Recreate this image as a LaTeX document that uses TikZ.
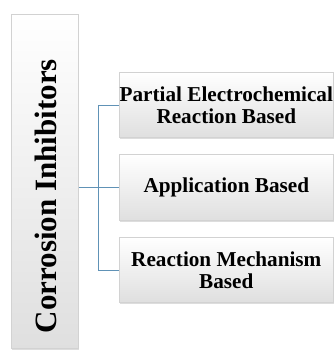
\documentclass[tikz,border=0pt]{standalone}
\usepackage{fontspec}
\setmainfont{Liberation Serif}
\usetikzlibrary{shadows}
\definecolor{connblue}{RGB}{96,146,182}
\begin{document}
\begin{tikzpicture}[x=1pt,y=-1pt,
  box/.style={draw=gray!35, line width=0.6pt, top color=white, bottom color=gray!25,
    drop shadow={shadow xshift=1pt, shadow yshift=-1.2pt, fill=gray!45, opacity=0.6}},
  conn/.style={draw=connblue, line width=0.6pt},
  lbl/.style={font=\bfseries\fontsize{21.2}{22}\selectfont, align=center, text=black}]
\useasboundingbox (0,0) rectangle (334,356);
\node[box, minimum width=67pt, minimum height=334pt, anchor=north west, inner sep=0pt] (main) at (11,14) {};
\node[rotate=90, font=\bfseries\fontsize{31}{32}\selectfont, text=black] (mt) at (46,196) {Corrosion Inhibitors};
\node[box, minimum width=214pt, minimum height=65pt, anchor=north west, inner sep=0pt] (b1) at (119,72) {};
\node[box, minimum width=214pt, minimum height=66pt, anchor=north west, inner sep=0pt] (b2) at (119,154) {};
\node[box, minimum width=214pt, minimum height=65pt, anchor=north west, inner sep=0pt] (b3) at (119,237) {};
\node[lbl] (t1) at (b1.center) {Partial Electrochemical\\Reaction Based};
\node[lbl] (t2) at (b2.center) {Application Based};
\node[lbl] (t3) at (b3.center) {Reaction Mechanism\\Based};
\coordinate (j) at (98,187);
\draw[conn] (main.east |- j) -- (j);
\draw[conn] (j) -- (b2.west |- j);
\draw[conn] (j |- b1.west) -- (j |- b3.west);
\draw[conn] (j |- b1.west) -- (b1.west);
\draw[conn] (j |- b3.west) -- (b3.west);
\end{tikzpicture}
\end{document}
